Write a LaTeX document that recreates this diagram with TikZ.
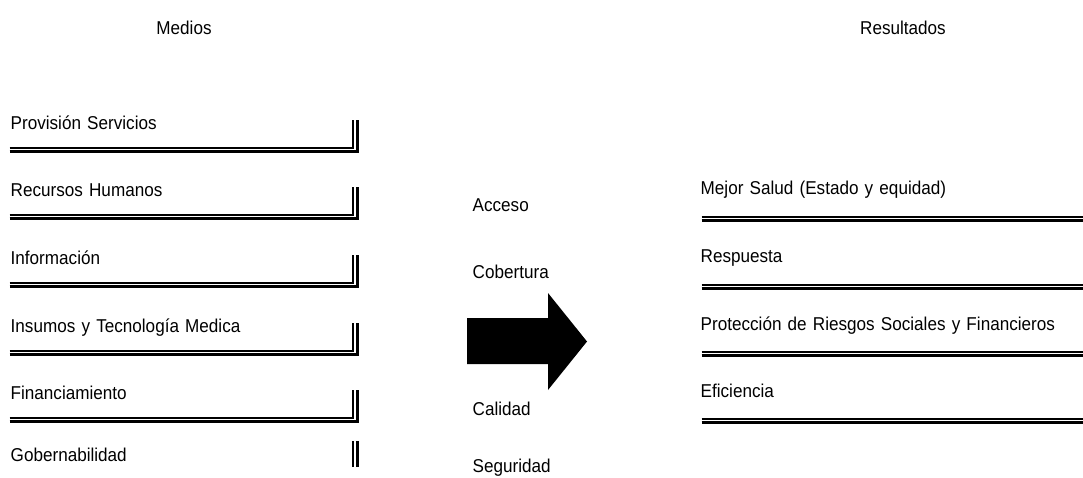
\documentclass[tikz,border=0pt]{standalone}
\usepackage{fontspec}
\setmainfont{Liberation Sans}[FakeStretch=0.92,WordSpace=1.3]
\begin{document}
\begin{tikzpicture}[x=1pt,y=-1pt,
  lbl/.style={anchor=base west,inner sep=0pt,font=\fontsize{18.6}{22}\selectfont},
  hdr/.style={anchor=base,inner sep=0pt,font=\fontsize{18.6}{22}\selectfont},
  thinln/.style={line width=1.8pt,line join=miter},
  thickln/.style={line width=3pt,line join=miter}]
\useasboundingbox (0,0) rectangle (1083,477);
% headers
\node[hdr] (medios) at (184,34.6) {Medios};
\node[hdr] (result) at (903,34.6) {Resultados};
% left column
\node[lbl] (m1) at (10.5,129) {Provisión Servicios};
\node[lbl] (m2) at (10.5,196) {Recursos Humanos};
\node[lbl] (m3) at (10.5,264) {Información};
\node[lbl] (m4) at (10.5,332) {Insumos y Tecnología Medica};
\node[lbl] (m5) at (10.5,399) {Financiamiento};
\node[lbl] (m6) at (10.5,461) {Gobernabilidad};
\foreach \b in {153,220,288,356,423}{
  \draw[thinln] (9.5,\b-5.3) -- (353,\b-5.3) -- (353,\b-33);
  \draw[thickln] (9.5,\b-1.5) -- (357,\b-1.5) -- (357,\b-33);
}
\draw[thinln] (353,441) -- (353,467);
\draw[thickln] (357,441) -- (357,467);
% middle
\node[lbl] (c1) at (472.5,211) {Acceso};
\node[lbl] (c2) at (472.5,278) {Cobertura};
\node[lbl] (c3) at (472.5,415) {Calidad};
\node[lbl] (c4) at (472.5,472) {Seguridad};
\fill (467,318) -- (548,318) -- (548,293) -- (587,341.5) -- (548,390) -- (548,364) -- (467,364) -- cycle;
% right column
\node[lbl] (r1) at (700.5,194) {Mejor Salud (Estado y equidad)};
\node[lbl] (r2) at (700.5,262) {Respuesta};
\node[lbl] (r3) at (700.5,330) {Protección de Riesgos Sociales y Financieros};
\node[lbl] (r4) at (700.5,397) {Eficiencia};
\foreach \b in {222,290,357,424}{
  \draw[thinln] (701.7,\b-5.3) -- (1083,\b-5.3);
  \draw[thickln] (701.7,\b-1.5) -- (1083,\b-1.5);
}
\end{tikzpicture}
\end{document}
